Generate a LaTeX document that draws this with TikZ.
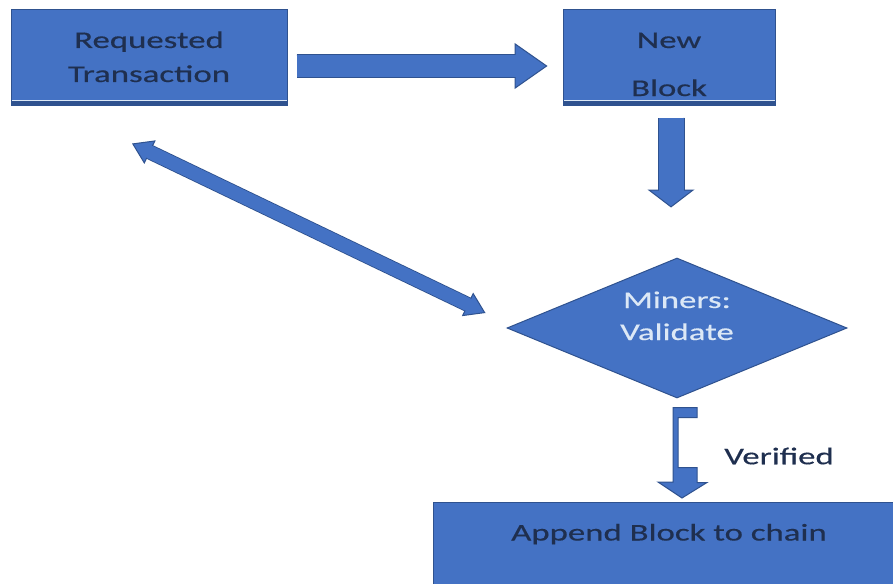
\documentclass[tikz,border=0pt]{standalone}
\usepackage{fontspec}
\setmainfont{Carlito}[FakeStretch=1.45, FakeBold=0.4]
\usetikzlibrary{arrows.meta,shapes.geometric,calc}
\definecolor{boxblue}{HTML}{4472C4}
\definecolor{edgeblue}{HTML}{2F528F}
\definecolor{inkblue}{HTML}{1F2F4F}
\definecolor{paleblue}{HTML}{DCE8F6}
\tikzset{
    stepbox/.style = {rectangle, fill = boxblue, draw = edgeblue, line width = 1pt,
        text = inkblue, align = center, inner sep = 0pt, font = \fontsize{24}{34}\selectfont},
    bevel/.style = {path picture = {
        \fill [edgeblue] ([yshift = 6pt]path picture bounding box.south west)
            rectangle (path picture bounding box.south east);
        \draw [paleblue, line width = 1pt] ([yshift = 5pt]path picture bounding box.south west)
            -- ([yshift = 5pt]path picture bounding box.south east);}},
    checkbox/.style = {diamond, fill = boxblue, draw = edgeblue, line width = 1pt, aspect = 2.43,
        text = paleblue, align = center, inner sep = 0pt, font = \fontsize{24}{32}\selectfont},
    bigarrow/.style n args = {3}{
        preaction = {-, draw = edgeblue, line width = #1 + 2pt, shorten > = #3 - 3pt},
        postaction = {-, draw = boxblue, line width = #1, shorten > = #3 - 2pt},
        draw = boxblue, line width = #1,
        -{Triangle[width = #2, length = #3, line width = 1pt, color = edgeblue, fill = boxblue]}},
    twoarrow/.style n args = {3}{
        preaction = {-, draw = edgeblue, line width = #1 + 2pt, shorten > = #3 - 3pt, shorten < = #3 - 3pt},
        postaction = {-, draw = boxblue, line width = #1, shorten > = #3 - 2pt, shorten < = #3 - 2pt},
        draw = boxblue, line width = #1,
        {Triangle[width = #2, length = #3, line width = 1pt, color = edgeblue, fill = boxblue]}-{Triangle[width = #2, length = #3, line width = 1pt, color = edgeblue, fill = boxblue]}},
    bentarrow/.style = {fill = boxblue, draw = edgeblue, line width = 1pt, line join = miter}
}
\begin{document}
\begin{tikzpicture}[x = 1pt, y = -1pt]
    \useasboundingbox [fill = white] (0, 0) rectangle (893, 583);
    % Boxes
    \node [stepbox, bevel, minimum width = 276, minimum height = 96, text height = 58pt, text depth = 10pt]
        (req) at (149, 58) {Requested\\Transaction};
    \node [stepbox, bevel, minimum width = 212, minimum height = 96, text height = 86pt, text depth = 10pt]
        (new) at (669, 58) {New\\[14pt]Block};
    \node [checkbox, minimum width = 340, minimum height = 140, text height = 34pt, text depth = 10pt]
        (val) at (677, 328) {Miners:\\Validate};
    \node [stepbox, anchor = north, minimum width = 472, text height = 38pt, text depth = 55pt]
        (app) at (669, 502) {Append Block to chain};
    % Block arrows
    \draw [bigarrow = {22pt}{46pt}{33pt}]
        ($(req.east) + (9, 8)$) -- ($(new.west) + (-15, 8)$);
    \draw [bigarrow = {25pt}{47pt}{18pt}]
        ($(new.south) + (2, 11)$) -- ($(val.north) + (-6, -50)$);
    \draw [twoarrow = {13pt}{26pt}{20pt}]
        ($(req.south) + (-17, 37)$) -- ($(val.west) + (-21, -15)$);
    % Verified
    \draw [bentarrow]
        ($(val.south) + (-4, 9)$) -- ++(24, 0) -- ++(0, 10) -- ++(-19, 0) -- ++(0, 50)
        -- ++(19, 0) -- ++(0, 15) -- ++(10, 0) -- ($(app.north) + (13, -4)$)
        -- ++(-24, -16) -- ++(15, 0) -- cycle;
    \node [text = inkblue, font = \fontsize{24}{28}\selectfont] (ver) at (779, 456) {Verified};
\end{tikzpicture}
\end{document}
